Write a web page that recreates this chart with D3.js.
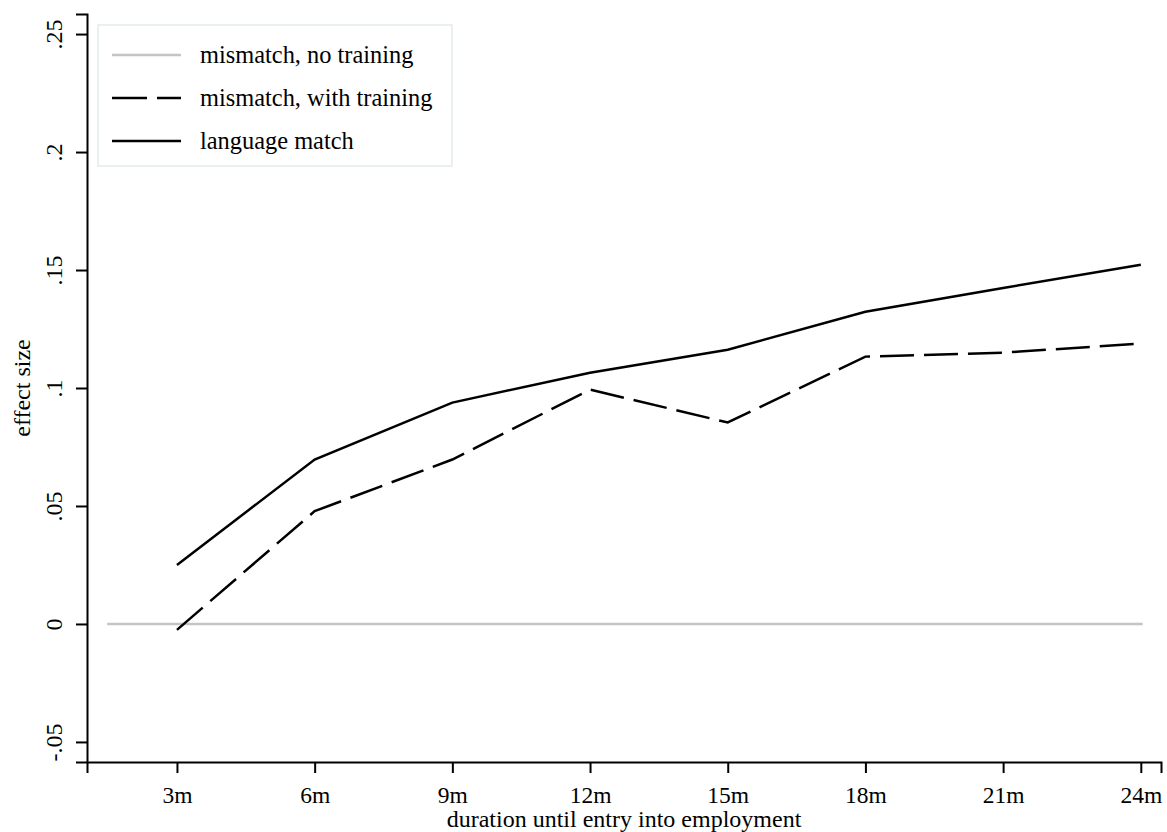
<!DOCTYPE html>
<html>
<head>
<meta charset="utf-8">
<script src="https://cdn.jsdelivr.net/npm/d3@7"></script>
<style>
  body { margin: 0; background: #fff; }
  text { font-family: "Liberation Serif", "DejaVu Serif", serif; fill: #000; }
</style>
</head>
<body>
<div class="chart"></div>
<script>
// data
const months = [3, 6, 9, 12, 15, 18, 21, 24]
const monthLabels = ["3m", "6m", "9m", "12m", "15m", "18m", "21m", "24m"]
const withTraining = [-0.0025, 0.0478, 0.0697, 0.0993, 0.0854, 0.1133, 0.1150, 0.1188]
const languageMatch = [0.0250, 0.0697, 0.0938, 0.1065, 0.1162, 0.1323, 0.1424, 0.1522]
const noTrainingSpan = [1.48, 24.04] // reference line at zero
const yTicks = [-0.05, 0, 0.05, 0.1, 0.15, 0.2, 0.25]
const yTickLabels = ["-.05", "0", ".05", ".1", ".15", ".2", ".25"]
const legendLabels = ["mismatch, no training", "mismatch, with training", "language match"]

const width = 1167
const height = 832

const svg = d3.select(".chart")
  .append("svg")
  .attr("width", width)
  .attr("height", height)

// scales
const xScale = d3.scaleLinear()
  .domain([1.04, 24.44])
  .range([87, 1161])

const yScale = d3.scaleLinear()
  .domain([-0.0585, 0.2585])
  .range([762, 14])

// y-axis
const yAxis = d3.axisLeft(yScale)
  .tickValues(yTicks)
  .tickSize(11)
  .tickFormat((d, i) => yTickLabels[i])

const gy = svg.append("g")
  .attr("transform", "translate(87,0)")
  .call(yAxis)
gy.select(".domain").attr("stroke", "#000").attr("stroke-width", 2)
gy.selectAll(".tick line").attr("stroke", "#000").attr("stroke-width", 2)
gy.selectAll(".tick text")
  .attr("x", null).attr("dy", null)
  .attr("transform", "translate(-25,0) rotate(-90)")
  .attr("text-anchor", "middle")
  .style("font-size", "24px")

// x-axis
const xAxis = d3.axisBottom(xScale)
  .tickValues(months)
  .tickSize(11)
  .tickFormat((d, i) => monthLabels[i])

const gx = svg.append("g")
  .attr("transform", "translate(0,762)")
  .call(xAxis)
gx.select(".domain").attr("stroke", "#000").attr("stroke-width", 2)
gx.selectAll(".tick line").attr("stroke", "#000").attr("stroke-width", 2)
gx.selectAll(".tick text")
  .attr("y", 41).attr("dy", null)
  .style("font-size", "23.5px")

// axis titles
svg.append("text")
  .attr("transform", "translate(30," + yScale(0.1) + ") rotate(-90)")
  .attr("text-anchor", "middle")
  .style("font-size", "24px")
  .text("effect size")

svg.append("text")
  .attr("x", d3.mean(xScale.range()))
  .attr("y", 827)
  .attr("text-anchor", "middle")
  .style("font-size", "24px")
  .text("duration until entry into employment")

// lines
const line = d3.line()
  .x((d) => xScale(d[0]))
  .y((d) => yScale(d[1]))

svg.append("path")
  .datum(noTrainingSpan.map((m) => [m, 0]))
  .attr("d", line)
  .attr("fill", "none")
  .attr("stroke", "#c4c4c4")
  .attr("stroke-width", 2.5)

svg.append("path")
  .datum(months.map((m, i) => [m, withTraining[i]]))
  .attr("d", line)
  .attr("fill", "none")
  .attr("stroke", "#000")
  .attr("stroke-width", 2.5)
  .attr("stroke-dasharray", "34,10")

svg.append("path")
  .datum(months.map((m, i) => [m, languageMatch[i]]))
  .attr("d", line)
  .attr("fill", "none")
  .attr("stroke", "#000")
  .attr("stroke-width", 2.5)

// legend
svg.append("rect")
  .attr("x", 98).attr("y", 25)
  .attr("width", 354).attr("height", 141)
  .attr("fill", "#fff")
  .attr("stroke", "#e3eaee")
  .attr("stroke-width", 1.5)

const styles = [
  { stroke: "#c4c4c4", dash: null },
  { stroke: "#000", dash: "35,10" },
  { stroke: "#000", dash: null }
]

legendLabels.forEach((label, i) => {
  const yy = 55 + i * 43
  svg.append("line")
    .attr("x1", 112).attr("x2", 181)
    .attr("y1", yy).attr("y2", yy)
    .attr("stroke", styles[i].stroke)
    .attr("stroke-width", 2.5)
    .attr("stroke-dasharray", styles[i].dash)
  svg.append("text")
    .attr("x", 200)
    .attr("y", yy + 8)
    .style("font-size", "24.4px")
    .text(label)
})
</script>
</body>
</html>
